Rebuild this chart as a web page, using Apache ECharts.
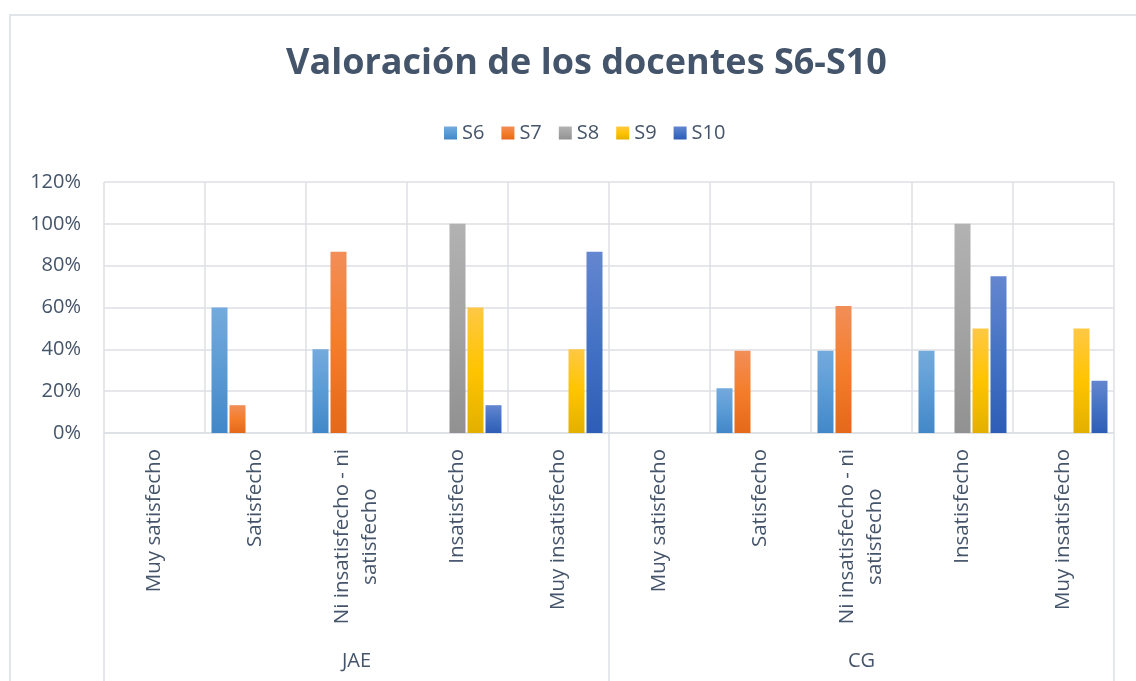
<!DOCTYPE html>
<html>
<head>
<meta charset="utf-8">
<script src="https://cdn.jsdelivr.net/npm/echarts@6/dist/echarts.min.js"></script>
<style>
  html, body { margin: 0; padding: 0; background: #fff; }
  #chart { width: 1136px; height: 681px; }
</style>
</head>
<body>
<div id="chart"></div>
<script>
// categorias (dos grupos de cinco)
const categories = [
  "Muy satisfecho", "Satisfecho", "Ni insatisfecho - ni\nsatisfecho", "Insatisfecho", "Muy insatisfecho",
  "Muy satisfecho", "Satisfecho", "Ni insatisfecho - ni\nsatisfecho", "Insatisfecho", "Muy insatisfecho"
];
const groups = ["JAE", "CG"];
const seriesNames = ["S6", "S7", "S8", "S9", "S10"];

// valores en %
const s6 = [0, 60, 40, 0, 0, 0, 21.4, 39.3, 39.3, 0];
const s7 = [0, 13.3, 86.7, 0, 0, 0, 39.3, 60.7, 0, 0];
const s8 = [0, 0, 0, 100, 0, 0, 0, 0, 100, 0];
const s9 = [0, 0, 0, 60, 40, 0, 0, 0, 50, 50];
const s10 = [0, 0, 0, 13.3, 86.7, 0, 0, 0, 75, 25];

const yTicks = { min: 0, max: 120, interval: 20 };

// degradados estilo Excel (claro arriba, oscuro abajo)
const gradients = [
  ["#74aadd", "#5b9bd5", "#4287c8"],
  ["#f28e58", "#f47d2a", "#e4691a"],
  ["#b2b2b2", "#a3a3a3", "#919191"],
  ["#ffc845", "#ffc400", "#e3b000"],
  ["#6586d0", "#4472c4", "#2e5db7"]
];

const txt = "#44546a";
const gridCol = "#dcdfe5";
const font = "'Open Sans', sans-serif";

const chart = echarts.init(document.getElementById("chart"));

const makeGrad = (c) => new echarts.graphic.LinearGradient(0, 0, 0, 1, [
  { offset: 0, color: c[0] },
  { offset: 0.5, color: c[1] },
  { offset: 1, color: c[2] }
]);

const values = [s6, s7, s8, s9, s10];

const option = {
  backgroundColor: "#fff",
  animation: false,
  graphic: [{
    type: "rect",
    z: -10,
    shape: { x: 10, y: 15, width: 1200, height: 700 },
    style: { fill: "none", stroke: "#d9dde3", lineWidth: 1.5 }
  }],
  title: {
    text: "Valoración de los docentes S6-S10",
    left: 281,
    top: 41,
    textStyle: { fontFamily: font, fontSize: 36, fontWeight: "bold", color: txt }
  },
  legend: {
    data: seriesNames,
    top: 118,
    left: 439,
    icon: "rect",
    itemWidth: 13,
    itemHeight: 13,
    itemGap: 17,
    textStyle: { fontFamily: font, fontSize: 20, color: txt }
  },
  grid: { left: 104, right: 22, top: 182, bottom: 248, containLabel: false },
  xAxis: [
    {
      type: "category",
      data: categories,
      axisLine: { show: true, lineStyle: { color: gridCol, width: 1.5 } },
      axisTick: { show: false },
      splitLine: { show: true, lineStyle: { color: gridCol, width: 1.5 } },
      axisLabel: {
        interval: 0,
        rotate: 90,
        margin: 16,
        fontFamily: font,
        fontSize: 20.5,
        color: txt,
        formatter: (v) => v.split("\n").map(l => "{a|" + l + "}").join("\n"),
        rich: { a: { align: "center", fontFamily: font, fontSize: 20.5, color: txt, lineHeight: 28 } }
      }
    },
    {
      type: "category",
      data: groups,
      position: "bottom",
      axisLine: { show: false },
      axisTick: { show: true, length: 250, lineStyle: { color: gridCol, width: 1.5 } },
      splitLine: { show: false },
      axisLabel: { margin: 218, fontFamily: font, fontSize: 20, color: txt }
    }
  ],
  yAxis: {
    type: "value",
    min: yTicks.min,
    max: yTicks.max,
    interval: yTicks.interval,
    axisLine: { show: false },
    axisTick: { show: false },
    splitLine: { lineStyle: { color: gridCol, width: 1.5 } },
    axisLabel: { formatter: "{value}%", margin: 23, fontFamily: font, fontSize: 20, color: txt }
  },
  series: seriesNames.map((name, i) => ({
    name: name,
    type: "bar",
    xAxisIndex: 0,
    data: values[i],
    barWidth: 16,
    barGap: "12.5%",
    itemStyle: { color: makeGrad(gradients[i]) }
  }))
};

chart.setOption(option);
</script>
</body>
</html>
